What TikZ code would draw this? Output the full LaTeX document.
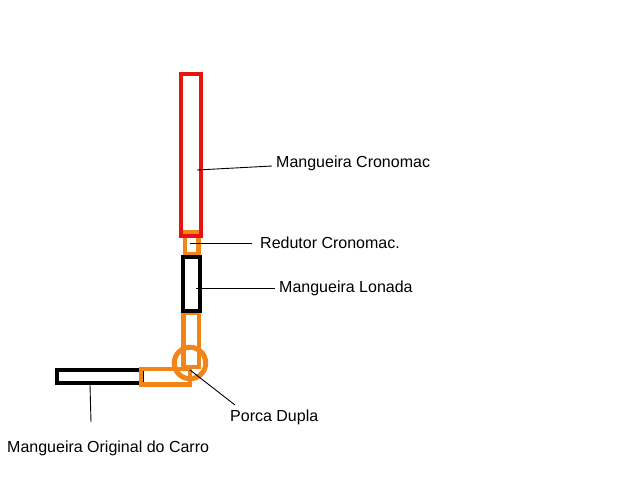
\documentclass[tikz,border=0pt]{standalone}
\usepackage{fontspec}
\setmainfont{Liberation Sans}
\definecolor{hoseRed}{HTML}{E81212}
\definecolor{hoseOrange}{HTML}{F28518}
\tikzset{
    hose/.style={draw=#1, line width=4pt, fill=none, rectangle, inner sep=0pt},
    fitting/.style={draw=hoseOrange, line width=5pt, circle, inner sep=0pt},
    leader/.style={draw=black, line width=0.9pt},
    callout/.style={anchor=west, font=\fontsize{16}{18}\selectfont, inner sep=4pt}
}
\begin{document}
\begin{tikzpicture}[x=1pt, y=-1pt]
    \useasboundingbox (0,0) rectangle (640,480);

    % Vertical run, top to bottom
    \node[hose=hoseOrange, line width=4.5pt, minimum width=13.5pt, minimum height=21.5pt] (redutor) at (191.75,243.25) {};
    \node[hose=hoseRed, minimum width=20pt, minimum height=162pt] (cronomac) at (191,155) {};
    \node[hose=hoseOrange, line width=4.5pt, minimum width=15.5pt, minimum height=54pt] (curvaV) at (191.25,340) {};
    \node[hose=black, minimum width=16.5pt, minimum height=54pt] (lonada) at (191.25,284) {};

    % Horizontal run
    \node[hose=black, minimum width=85pt, minimum height=13.5pt] (original) at (99.5,376.5) {};
    \node[hose=hoseOrange, line width=4.5pt, minimum width=49pt, minimum height=15.5pt] (curvaH) at (165.5,376.75) {};

    % Double nut
    \node[fitting, minimum size=31.5pt] (porca) at (190,363) {};

    % Labels
    \node[callout] (lblCronomac) at (272,163) {Mangueira Cronomac};
    \node[callout] (lblRedutor) at (256,243) {Redutor Cronomac.};
    \node[callout] (lblLonada) at (275,288) {Mangueira Lonada};
    \node[callout] (lblPorca) at (226,417) {Porca Dupla};
    \node[callout] (lblOriginal) at (3,448) {Mangueira Original do Carro};

    % Leader ends
    \coordinate (inCronomac) at (197,170);
    \coordinate (inRedutor) at (190,243);
    \coordinate (inLonada) at (196,288);
    \coordinate (inPorca) at (190,370);
    \coordinate (tipPorca) at (235,405);
    \coordinate (inOriginal) at (90,385);
    \coordinate (tipOriginal) at (91,422);

    % Leaders
    \draw[leader] (inCronomac) -- ([yshift=-3pt]lblCronomac.west);
    \draw[leader, shorten >=4pt] (inRedutor) -- (lblRedutor.west);
    \draw[leader] (inLonada) -- (lblLonada.west);
    \draw[leader] (inPorca) -- (tipPorca);
    \draw[leader] (inOriginal) -- (tipOriginal);
\end{tikzpicture}
\end{document}
